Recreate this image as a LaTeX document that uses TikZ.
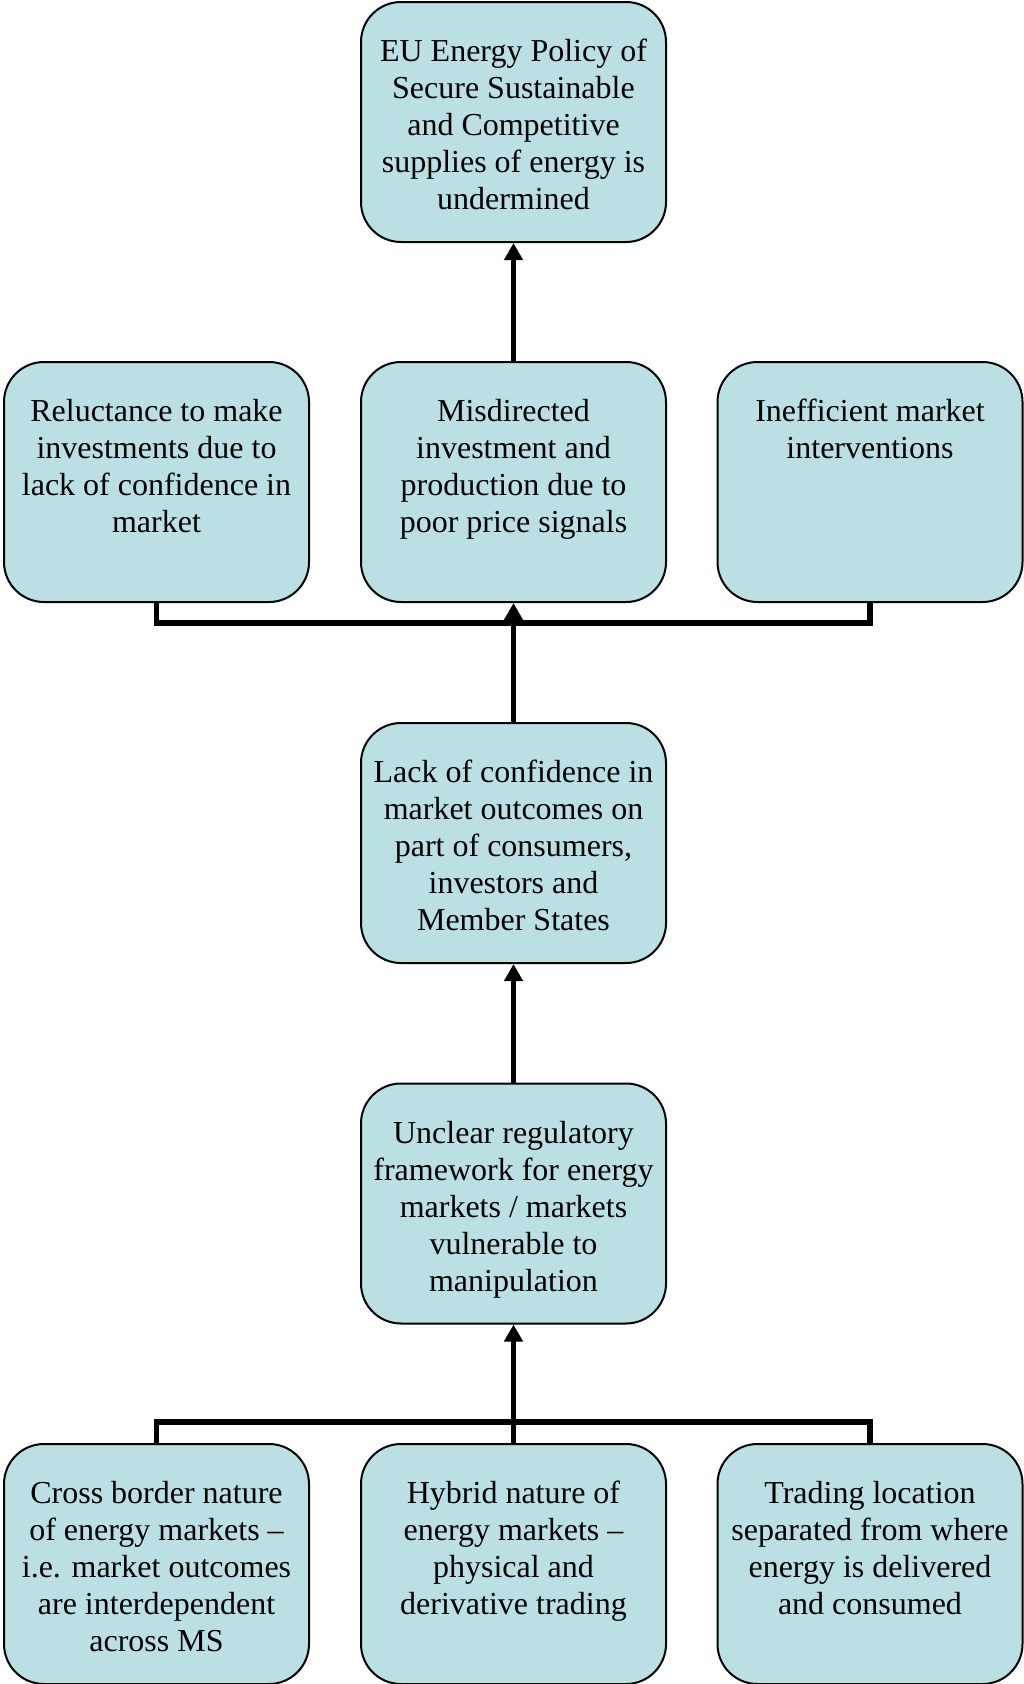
\documentclass[tikz,border=0pt]{standalone}
\usepackage{fontspec}
\setmainfont{Liberation Serif}
\usetikzlibrary{arrows.meta}
\definecolor{boxfill}{RGB}{187,224,227}
\newcommand{\boxtxt}[1]{\parbox[c][172pt][t]{300pt}{\centering\strut #1}}

\begin{document}
\begin{tikzpicture}[
  x=1pt,y=-1pt,
  font=\fontsize{32}{37}\selectfont,
  blk/.style={draw=black,line width=2pt,fill=boxfill,rounded corners=40pt,
              minimum width=305pt,minimum height=240pt,inner sep=0pt},
  bar/.style={line width=5.5pt},
  arr/.style={line width=5.5pt,-{Triangle[width=18pt,length=17pt]}},
]
\useasboundingbox (0,0) rectangle (1024,1684);

% ---- effects -------------------------------------------------------------
\node[blk] (policy) at (513.5,122)
  {\boxtxt{EU Energy Policy of\\Secure Sustainable\\and Competitive\\supplies of energy is\\undermined}};
\node[blk] (reluct) at (156.5,482)
  {\boxtxt{Reluctance to make\\investments due to\\lack of confidence in\\market}};
\node[blk] (misdir) at (513.5,482)
  {\boxtxt{Misdirected\\investment and\\production due to\\poor price signals}};
\node[blk] (ineff) at (870,482)
  {\boxtxt{Inefficient market\\interventions}};

% ---- problem -------------------------------------------------------------
\node[blk] (lackconf) at (513.5,843)
  {\boxtxt{Lack of confidence in\\market outcomes on\\part of consumers,\\investors and\\Member States}};
\node[blk] (unclear) at (513.5,1203.5)
  {\boxtxt{Unclear regulatory\\framework for energy\\markets / markets\\vulnerable to\\manipulation}};

% ---- drivers -------------------------------------------------------------
\node[blk] (cross) at (156.5,1564)
  {\boxtxt{Cross border nature\\of energy markets --\\i.e. market outcomes\\are interdependent\\across MS}};
\node[blk] (hybrid) at (513.5,1564)
  {\boxtxt{Hybrid nature of\\energy markets --\\physical and\\derivative trading}};
\node[blk] (trading) at (870,1564)
  {\boxtxt{Trading location\\separated from where\\energy is delivered\\and consumed}};

% connectors
\draw[arr] (misdir.north) -- (policy.south);
\draw[bar] (reluct.south) -- ++(0,20) -| (ineff.south);
\draw[arr] (lackconf.north) -- (misdir.south);
\draw[arr] (unclear.north) -- (lackconf.south);
\draw[bar] (cross.north) -- ++(0,-21) -| (trading.north);
\draw[arr] (hybrid.north) -- (unclear.south);
\end{tikzpicture}
\end{document}
